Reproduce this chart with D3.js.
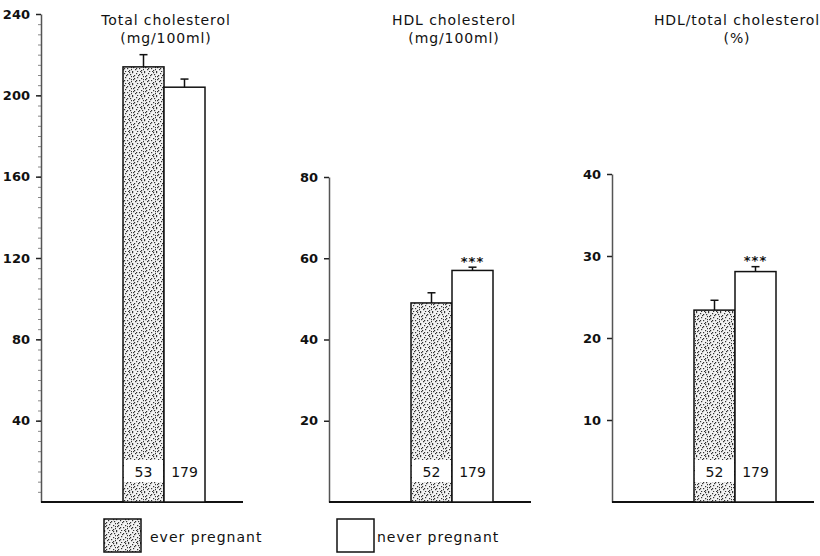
<!DOCTYPE html>
<html>
<head>
<meta charset="utf-8">
<script src="https://cdn.jsdelivr.net/npm/d3@7"></script>
<style>
  body { margin: 0; background: #fff; }
  text { font-family: "DejaVu Sans", sans-serif; fill: #111; }
</style>
</head>
<body>
<div id="chart"></div>
<script>
// Data
var groups = ["ever pregnant", "never pregnant"];
var panelTitles = [["Total cholesterol", "(mg/100ml)"], ["HDL cholesterol", "(mg/100ml)"], ["HDL/total cholesterol", "(%)"]];
var means = [[214, 204], [49, 57], [23.4, 28.1]];
var errors = [[6, 4], [2.5, 0.8], [1.2, 0.6]];
var counts = [[53, 179], [52, 179], [52, 179]];
var yMax = [240, 80, 40];
var yTicks = [[40, 80, 120, 160, 200, 240], [20, 40, 60, 80], [10, 20, 30, 40]];
var stars = ["", "***", "***"];

var svg = d3.select("#chart").append("svg")
    .attr("width", 820)
    .attr("height", 556);

// stipple texture for the "ever pregnant" bars
var dots = [[0,0],[4,1],[9,0],[2,3],[7,2],[11,4],[5,5],[1,7],[9,6],[3,9],[7,8],[11,9],
            [0,11],[5,11],[9,10],[2,6],[6,3],[10,2],[4,8],[8,11],[1,4],[11,7]];
var pat = svg.append("defs").append("pattern")
    .attr("id", "stipple")
    .attr("width", 12).attr("height", 12)
    .attr("patternUnits", "userSpaceOnUse");
pat.append("rect").attr("width", 12).attr("height", 12).attr("fill", "#f2f2f2");
pat.selectAll("rect.d").data(dots).enter().append("rect")
    .attr("class", "d")
    .attr("x", d => d[0]).attr("y", d => d[1])
    .attr("width", 1.2).attr("height", 1.2)
    .attr("fill", "#333");

var axisX = [41, 329, 612];
var tops = [14, 177, 174];
var base = 502;

panelTitles.forEach(function(title, i) {
    var g = svg.append("g");

    var y = d3.scaleLinear().domain([0, yMax[i]]).range([base, tops[i]]);
    var x = d3.scaleBand().domain(groups)
        .range([axisX[i] + 82, axisX[i] + 164]);

    // minor ticks on the first panel
    if (i === 0) {
        g.append("g")
            .attr("transform", "translate(" + axisX[i] + ",0)")
            .call(d3.axisLeft(y).tickValues(d3.range(5, 240, 5)).tickSize(3).tickFormat(""))
            .call(a => a.select(".domain").remove())
            .selectAll("line").attr("stroke", "#888");
    }

    var yAxis = g.append("g")
        .attr("transform", "translate(" + axisX[i] + ",0)")
        .call(d3.axisLeft(y).tickValues(yTicks[i]).tickSize(5).tickSizeOuter(0).tickPadding(6));
    yAxis.select(".domain").attr("stroke", "#555").attr("stroke-width", 1.5);
    yAxis.selectAll(".tick line").attr("stroke", "#222").attr("stroke-width", 1.5);
    yAxis.selectAll(".tick text")
        .style("font-size", "13px")
        .style("font-weight", "bold")
        .attr("fill", "#111");

    // baseline
    g.append("line")
        .attr("x1", axisX[i]).attr("x2", axisX[i] + 202)
        .attr("y1", base).attr("y2", base)
        .attr("stroke", "#111").attr("stroke-width", 2);

    // bars
    g.selectAll("rect.bar").data(groups).enter().append("rect")
        .attr("class", "bar")
        .attr("x", d => x(d))
        .attr("width", x.bandwidth())
        .attr("y", (d, j) => y(means[i][j]))
        .attr("height", (d, j) => base - y(means[i][j]))
        .attr("fill", (d, j) => j === 0 ? "url(#stipple)" : "#fff")
        .attr("stroke", "#111")
        .attr("stroke-width", 1.5);

    // white strip in the stippled bar for the count
    g.append("rect")
        .attr("x", x(groups[0]) + 1)
        .attr("width", x.bandwidth() - 2)
        .attr("y", base - 42)
        .attr("height", 22)
        .attr("fill", "#fff");

    // error bars and counts
    groups.forEach(function(grp, j) {
        var cx = x(grp) + x.bandwidth() / 2;
        g.append("line")
            .attr("x1", cx).attr("x2", cx)
            .attr("y1", y(means[i][j])).attr("y2", y(means[i][j] + errors[i][j]))
            .attr("stroke", "#111").attr("stroke-width", 1.5);
        g.append("line")
            .attr("x1", cx - 4).attr("x2", cx + 4)
            .attr("y1", y(means[i][j] + errors[i][j])).attr("y2", y(means[i][j] + errors[i][j]))
            .attr("stroke", "#111").attr("stroke-width", 1.5);

        g.append("text")
            .attr("x", cx)
            .attr("y", base - 25)
            .attr("text-anchor", "middle")
            .style("font-size", "14px")
            .text(counts[i][j]);
    });

    if (stars[i]) {
        var sx = x(groups[1]) + x.bandwidth() / 2;
        g.append("text")
            .attr("x", sx)
            .attr("y", y(means[i][1] + errors[i][1]) + 1)
            .attr("dy", "-0.2em")
            .attr("text-anchor", "middle")
            .style("font-size", "13px")
            .style("font-weight", "bold")
            .style("letter-spacing", "1px")
            .text(stars[i]);
    }

    // titles
    var tx = x(groups[1]) + 2;
    g.append("text")
        .attr("x", tx).attr("y", 25)
        .attr("text-anchor", "middle")
        .style("font-size", "14px")
        .style("letter-spacing", "0.9px")
        .text(title[0]);
    g.append("text")
        .attr("x", tx).attr("y", 43)
        .attr("text-anchor", "middle")
        .style("font-size", "14px")
        .style("letter-spacing", "0.9px")
        .text(title[1]);
});

// legend
var legendX = [104, 337];
var legend = svg.selectAll(".legend")
    .data(groups)
    .enter().append("g")
    .attr("class", "legend")
    .attr("transform", (d, j) => "translate(" + legendX[j] + ",519)");

legend.append("rect")
    .attr("width", 37)
    .attr("height", 33)
    .attr("fill", (d, j) => j === 0 ? "url(#stipple)" : "#fff")
    .attr("stroke", "#111")
    .attr("stroke-width", 1.5);

legend.append("text")
    .attr("x", (d, j) => j === 0 ? 46 : 40)
    .attr("y", 23)
    .style("font-size", "14px")
    .style("letter-spacing", "1px")
    .text(d => d);
</script>
</body>
</html>
